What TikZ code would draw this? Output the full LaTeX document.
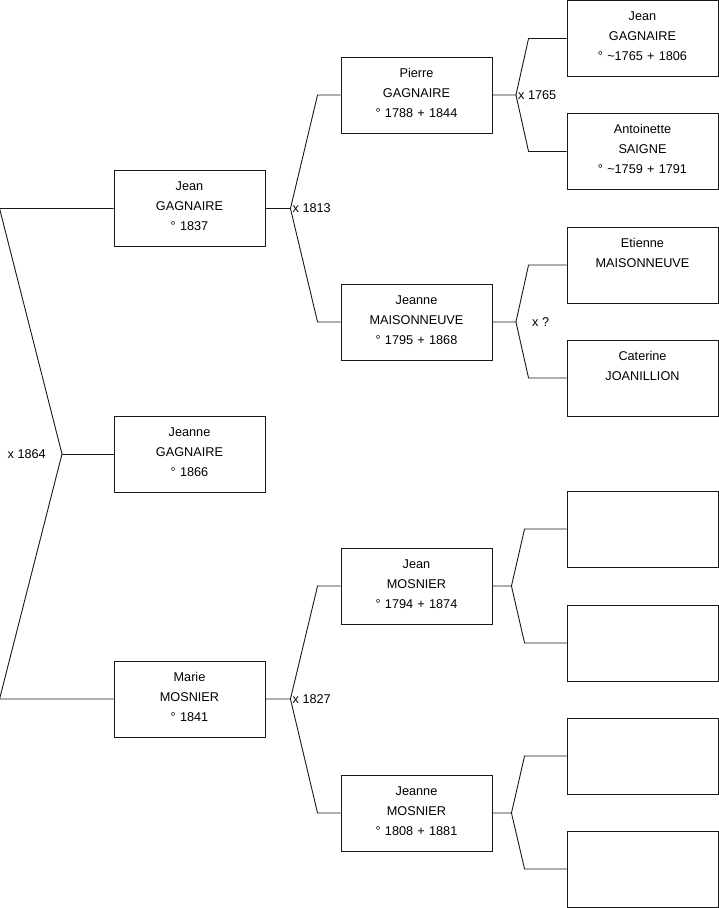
\documentclass[tikz,border=0pt]{standalone}
\usepackage{fontspec}
\setmainfont{Liberation Sans}
\usetikzlibrary{positioning}
\begin{document}
\begin{tikzpicture}[
    x=1pt, y=-1pt,
    person/.style={rectangle, draw=black!90, line width=0.9pt, text width=147pt, inner xsep=2pt, inner ysep=0pt, text height=20pt, text depth=56pt, align=center, font=\fontsize{12.7}{20}\selectfont},
    link/.style={draw=black!90, line width=0.9pt},
    union/.style={inner sep=1pt, font=\fontsize{12.7}{15}\selectfont}
]
    \useasboundingbox (0,0) rectangle (719,908);

    \node[person] (jean) at (189.5,208.5) {Jean\\GAGNAIRE\\° 1837};
    \node[person] (jeanne) at (189.5,454) {Jeanne\\GAGNAIRE\\° 1866};
    \node[person] (marie) at (189.5,699) {Marie\\MOSNIER\\° 1841};

    \node[person] (pierre) at (416.5,95) {Pierre\\GAGNAIRE\\° 1788 + 1844};
    \node[person] (jmaison) at (416.5,322) {Jeanne\\MAISONNEUVE\\° 1795 + 1868};
    \node[person] (jmosnier) at (416.5,586) {Jean\\MOSNIER\\° 1794 + 1874};
    \node[person] (jnmosnier) at (416.5,813) {Jeanne\\MOSNIER\\° 1808 + 1881};

    \node[person] (jeang) at (642.5,38.5) {Jean\\GAGNAIRE\\° \textasciitilde1765 + 1806};
    \node[person] (antoinette) at (642.5,151.5) {Antoinette\\SAIGNE\\° \textasciitilde1759 + 1791};
    \node[person] (etienne) at (642.5,265) {Etienne\\MAISONNEUVE};
    \node[person] (caterine) at (642.5,378) {Caterine\\JOANILLION};
    \node[person] (e1) at (642.5,529) {};
    \node[person] (e2) at (642.5,643) {};
    \node[person] (e3) at (642.5,756) {};
    \node[person] (e4) at (642.5,869) {};

    \coordinate (f0) at (62,454);
    \draw[link] (jean.west) -- ([xshift=-114pt]jean.west) -- (f0) -- ([xshift=-114pt]marie.west) -- (marie.west);
    \draw[link] (f0) -- (jeanne.west);
    \node[union, left=15pt of f0] {x 1864};

    \coordinate (f1) at ([xshift=25pt]jean.east);
    \draw[link] (jean.east) -- (f1) -- ([xshift=-23pt]pierre.west) -- (pierre.west);
    \draw[link] (f1) -- ([xshift=-23pt]jmaison.west) -- (jmaison.west);
    \node[union, right=1pt of f1] {x 1813};

    \coordinate (f2) at ([xshift=25pt]marie.east);
    \draw[link] (marie.east) -- (f2) -- ([xshift=-23pt]jmosnier.west) -- (jmosnier.west);
    \draw[link] (f2) -- ([xshift=-23pt]jnmosnier.west) -- (jnmosnier.west);
    \node[union, right=1pt of f2] {x 1827};

    \coordinate (f3) at ([xshift=23.5pt]pierre.east);
    \draw[link] (pierre.east) -- (f3) -- ([xshift=-38pt]jeang.west) -- (jeang.west);
    \draw[link] (f3) -- ([xshift=-38pt]antoinette.west) -- (antoinette.west);
    \node[union, right=1pt of f3] {x 1765};

    \coordinate (f4) at ([xshift=23.5pt]jmaison.east);
    \draw[link] (jmaison.east) -- (f4) -- ([xshift=-38pt]etienne.west) -- (etienne.west);
    \draw[link] (f4) -- ([xshift=-38pt]caterine.west) -- (caterine.west);
    \node[union, right=15pt of f4] {x ?};

    \coordinate (f5) at ([xshift=19pt]jmosnier.east);
    \draw[link] (jmosnier.east) -- (f5) -- ([xshift=-42pt]e1.west) -- (e1.west);
    \draw[link] (f5) -- ([xshift=-42pt]e2.west) -- (e2.west);

    \coordinate (f6) at ([xshift=19pt]jnmosnier.east);
    \draw[link] (jnmosnier.east) -- (f6) -- ([xshift=-42pt]e3.west) -- (e3.west);
    \draw[link] (f6) -- ([xshift=-42pt]e4.west) -- (e4.west);
\end{tikzpicture}
\end{document}
